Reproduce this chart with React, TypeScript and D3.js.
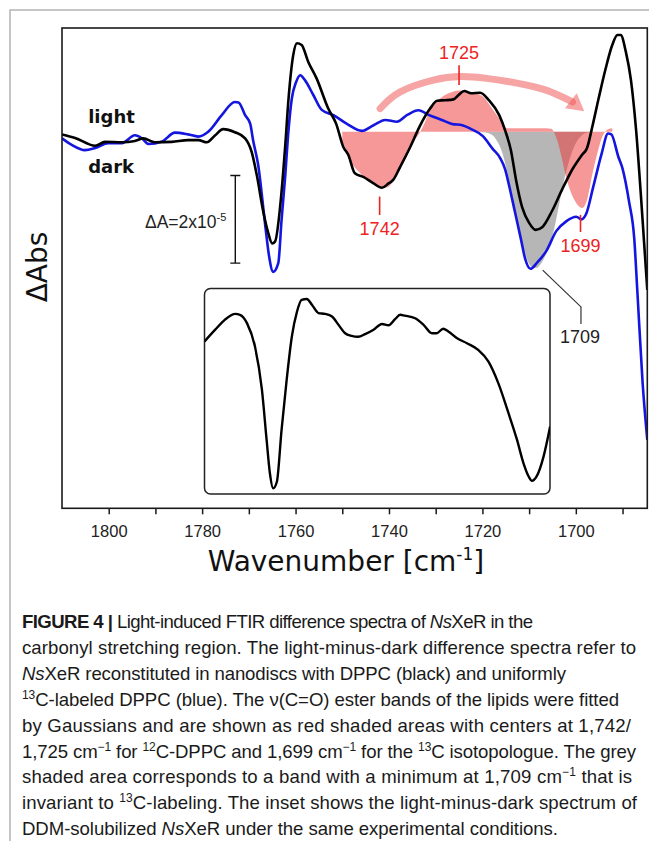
import React, { useEffect, useRef } from 'react'
import * as d3 from 'd3'

// wavenumber [cm-1], dA in units of 1e-5
const dpplBlack: [number, number][] = [
  [1810.0, -0.06], [1807.2, -0.14], [1802.9, -0.32], [1800.8, -0.23], [1797.2, -0.24], [1794.4, -0.21],
  [1792.6, -0.15], [1790.1, -0.24], [1786.5, -0.23], [1783.0, -0.19], [1780.8, -0.19], [1779.0, -0.24],
  [1777.2, -0.08], [1775.5, 0.06], [1773.0, -0.01], [1770.8, -0.15], [1769.4, -0.46], [1768.3, -0.99],
  [1766.9, -1.83], [1765.9, -2.29], [1765.0, -2.55], [1764.4, -2.51], [1763.0, -1.37], [1762.2, -0.30],
  [1761.5, 0.76], [1760.5, 1.75], [1759.7, 2.02], [1758.7, 1.98], [1757.3, 1.60], [1755.5, 1.22],
  [1753.0, 0.53], [1751.3, 0.18], [1749.8, -0.34], [1748.7, -0.53], [1747.3, -0.95], [1745.5, -1.03],
  [1743.3, -1.18], [1741.5, -1.28], [1740.1, -1.18], [1739.1, -1.10], [1737.6, -0.80], [1735.5, -0.36],
  [1733.4, 0.13], [1731.2, 0.53], [1729.7, 0.71], [1728.0, 0.72], [1726.2, 0.74], [1725.1, 0.84],
  [1723.9, 0.93], [1722.4, 0.88], [1720.5, 0.89], [1718.6, 0.72], [1716.4, 0.38], [1715.1, 0.02],
  [1713.9, -0.42], [1712.8, -1.10], [1711.5, -1.72], [1710.0, -2.08], [1708.6, -2.24], [1707.2, -2.18],
  [1705.1, -1.81], [1702.9, -1.31], [1700.7, -0.85], [1698.7, -0.53], [1697.6, -0.37], [1696.4, 0.15],
  [1695.1, 0.77], [1693.6, 1.45], [1692.2, 1.98], [1691.1, 2.21], [1690.4, 2.21], [1689.3, 1.83],
  [1688.2, 1.18], [1687.1, 0.04], [1686.0, -1.56], [1684.7, -3.61]
]

const dpplBlue: [number, number][] = [
  [1810.0, -0.15], [1807.9, -0.30], [1805.1, -0.42], [1802.9, -0.37], [1800.1, -0.26], [1797.2, -0.26],
  [1794.4, -0.08], [1792.9, -0.15], [1791.5, -0.28], [1788.7, -0.23], [1785.8, -0.02], [1783.0, -0.06],
  [1780.8, -0.11], [1778.7, 0.0], [1775.8, 0.38], [1773.0, 0.68], [1772.2, 0.67], [1770.8, 0.38],
  [1769.7, 0.18], [1769.1, -0.19], [1768.0, -0.76], [1766.5, -2.13], [1765.7, -2.82], [1764.8, -3.20],
  [1763.7, -3.00], [1763.0, -2.02], [1762.2, -0.99], [1761.6, -0.08], [1760.8, 0.76], [1759.9, 1.13],
  [1759.0, 1.29], [1758.0, 1.18], [1756.2, 0.84], [1754.4, 0.50], [1751.9, 0.38], [1749.0, 0.18],
  [1745.8, 0.02], [1743.3, 0.15], [1740.8, 0.27], [1738.3, 0.23], [1736.0, 0.39], [1733.7, 0.49],
  [1731.4, 0.38], [1728.7, 0.27], [1726.5, 0.18], [1724.3, 0.15], [1722.4, 0.06], [1719.9, -0.10],
  [1717.8, -0.39], [1716.2, -0.60], [1715.1, -0.87], [1714.3, -1.22], [1713.1, -1.80], [1711.7, -2.48],
  [1710.9, -2.88], [1709.7, -3.13], [1708.3, -2.99], [1706.3, -2.72], [1704.2, -2.27], [1702.0, -2.04],
  [1699.9, -1.94], [1698.8, -2.00], [1697.8, -1.88], [1696.3, -1.27], [1694.5, -0.51], [1693.1, -0.04],
  [1692.4, -0.06], [1690.9, -0.57], [1690.0, -0.84], [1688.6, -1.60], [1687.5, -2.43], [1686.8, -3.70],
  [1685.7, -5.74], [1684.7, -7.04]
]

// gaussian fits of the lipid ester bands (red) and the 1709 band (grey)
const lipidFit: [number, number][] = [
  [1750.0, -0.24], [1749.4, -0.35], [1748.3, -0.65], [1746.2, -0.94], [1744.0, -1.15], [1741.7, -1.29],
  [1740.2, -1.26], [1738.3, -0.99], [1736.6, -0.65], [1734.9, -0.26], [1733.3, 0.0], [1732.3, 0.22],
  [1731.2, 0.50], [1729.7, 0.70], [1728.0, 0.84], [1726.5, 0.91], [1724.8, 0.94], [1723.1, 0.92],
  [1721.4, 0.88], [1719.7, 0.79], [1718.0, 0.54], [1716.6, 0.33], [1715.6, 0.15], [1714.7, 0.08],
  [1707.6, 0.08], [1705.3, 0.07], [1704.0, -0.19], [1702.9, -0.65], [1702.1, -1.03], [1701.0, -1.40],
  [1699.9, -1.63], [1698.6, -1.74], [1697.6, -1.56], [1696.5, -0.99], [1695.4, -0.49], [1694.2, -0.08],
  [1693.1, 0.06], [1692.2, 0.08]
]

const band1709: [number, number][] = [
  [1720.9, 0.0], [1718.8, -0.03], [1717.1, -0.17], [1715.6, -0.53], [1714.1, -1.22], [1712.6, -2.02],
  [1711.1, -2.70], [1709.6, -3.07], [1708.5, -3.11], [1707.2, -2.97], [1705.9, -2.66], [1704.6, -2.20],
  [1703.6, -1.67], [1702.5, -1.10], [1701.4, -0.65], [1700.2, -0.30], [1698.9, -0.10], [1697.4, -0.01],
  [1696.1, 0.0]
]

// inset: DDM-solubilized NsXeR (own y units)
const insetDDM: [number, number][] = [
  [1779.5, -0.13], [1777.2, 0.14], [1775.1, 0.37], [1772.9, 0.50], [1771.9, 0.48], [1770.4, 0.29],
  [1768.7, -0.24], [1767.2, -1.23], [1766.2, -2.37], [1765.5, -3.13], [1764.8, -3.48], [1764.0, -3.33],
  [1763.0, -2.15], [1761.9, -1.00], [1760.8, -0.02], [1759.7, 0.55], [1758.7, 0.82], [1757.6, 0.84],
  [1756.5, 0.71], [1755.1, 0.52], [1753.7, 0.50], [1752.2, 0.44], [1750.8, 0.25], [1749.4, 0.06],
  [1748.0, 0.0], [1746.6, -0.02], [1745.1, 0.04], [1743.3, 0.14], [1741.5, 0.27], [1740.1, 0.24],
  [1738.7, 0.38], [1737.6, 0.48], [1736.6, 0.46], [1734.4, 0.40], [1732.6, 0.25], [1730.8, 0.06],
  [1729.8, 0.06], [1728.4, 0.16], [1727.3, 0.10], [1725.5, -0.05], [1723.3, -0.17], [1720.9, -0.32],
  [1718.7, -0.59], [1716.6, -1.08], [1714.4, -1.77], [1712.6, -2.37], [1711.2, -2.91], [1710.1, -3.21],
  [1709.4, -3.31], [1708.4, -3.21], [1706.9, -2.75], [1705.5, -2.07]
]

const arrowPath: [number, number][] = [
  [1741.9, 0.53], [1737.6, 0.91], [1730.5, 1.18], [1724.8, 1.26], [1719.1, 1.22], [1712.6, 1.11],
  [1706.4, 0.95], [1701.9, 0.78]
]
const arrowTip: [number, number] = [1698.2, 0.47]

const peakLabels = ['1742', '1725', '1699']
const peakWn = [1742, 1725, 1699]
const peakTick: [number, number][] = [[-1.48, -1.90], [1.52, 1.07], [-1.90, -2.29]]

const label1709 = '1709'
const leader1709: [number, number][] = [[1707.1, -3.16], [1698.9, -4.0], [1698.9, -4.39]]

const seriesLabels = ['light', 'dark']
const seriesLabelPos: [number, number][] = [[1804.4, 0.21], [1804.4, -0.95]]

const scaleBar: [number, number, number] = [1772.9, -1, -3]

const xTicks = d3.range(1800, 1689, -10)

const caption: [string, string][][] = [
  [['FIGURE 4 | ', 'b'], ['Light-induced FTIR difference spectra of ', ''], ['Ns', 'i'], ['XeR in the', '']],
  [['carbonyl stretching region. The light-minus-dark difference spectra refer to', '']],
  [['Ns', 'i'], ['XeR reconstituted in nanodiscs with DPPC (black) and uniformly', '']],
  [['13', 's'], ['C-labeled DPPC (blue). The ν(C=O) ester bands of the lipids were fitted', '']],
  [['by Gaussians and are shown as red shaded areas with centers at 1,742/', '']],
  [['1,725 cm', ''], ['−1', 's'], [' for ', ''], ['12', 's'], ['C-DPPC and 1,699 cm', ''], ['−1', 's'], [' for the ', ''], ['13', 's'], ['C isotopologue. The grey', '']],
  [['shaded area corresponds to a band with a minimum at 1,709 cm', ''], ['−1', 's'], [' that is', '']],
  [['invariant to ', ''], ['13', 's'], ['C-labeling. The inset shows the light-minus-dark spectrum of', '']],
  [['DDM-solubilized ', ''], ['Ns', 'i'], ['XeR under the same experimental conditions.', '']]
]
// right end of each caption line
const captionEnds = [533, 636, 566, 619, 631, 636, 632, 637, 558]

const W = 649
const H = 841
const frame = { left: 62, top: 28, right: 647.3, bottom: 508.3 }
const insetBox = { left: 204.5, top: 288.5, right: 550, bottom: 494 }
const sans = 'Liberation Sans, Arial, sans-serif'
const dejavu = 'DejaVu Sans, Verdana, sans-serif'

const App = () => {
  const ref = useRef<SVGSVGElement>(null)

  useEffect(() => {
    const svg = d3.select(ref.current)
    svg.selectAll('*').remove()

    const x = d3.scaleLinear().domain([1810.0, 1684.7]).range([frame.left, frame.right])
    const y = d3.scaleLinear().domain([-8.6, 2.37]).range([frame.bottom, frame.top])
    const yIn = d3.scaleLinear().domain([-3.61, 1.08]).range([insetBox.bottom, insetBox.top])

    // outer grey border
    svg.append('path')
      .attr('d', `M10,${H} V10 H${W}`)
      .attr('fill', 'none')
      .attr('stroke', '#b4b4b4')
      .attr('stroke-width', 1.5)

    const defs = svg.append('defs')
    defs.append('clipPath').attr('id', 'plotClip')
      .append('rect')
      .attr('x', frame.left).attr('y', frame.top)
      .attr('width', frame.right - frame.left).attr('height', frame.bottom - frame.top)
    defs.append('clipPath').attr('id', 'insetClip')
      .append('rect')
      .attr('x', insetBox.left).attr('y', insetBox.top)
      .attr('width', insetBox.right - insetBox.left).attr('height', insetBox.bottom - insetBox.top)

    const plot = svg.append('g').attr('clip-path', 'url(#plotClip)')

    const area = d3.area<[number, number]>()
      .x(d => x(d[0]))
      .y0(y(0))
      .y1(d => y(d[1]))
      .curve(d3.curveMonotoneX)

    plot.append('path').attr('d', area(band1709)).attr('fill', '#b6b6b6')
    plot.append('path').attr('d', area(lipidFit)).attr('fill', 'rgba(240,50,50,0.5)')

    // arrow 1742/1725 -> 1699
    const tipX = x(arrowTip[0])
    const tipY = y(arrowTip[1])
    const last = arrowPath[arrowPath.length - 1]
    const dx = tipX - x(last[0])
    const dy = tipY - y(last[1])
    const len = Math.sqrt(dx * dx + dy * dy)
    const ux = dx / len
    const uy = dy / len
    const headLen = 17
    const headHalf = 9.5
    const bx = tipX - ux * headLen
    const by = tipY - uy * headLen
    const arrowPts: [number, number][] = arrowPath.map(d => [x(d[0]), y(d[1])])
    arrowPts[arrowPts.length - 1] = [bx + ux * 2, by + uy * 2]
    plot.append('path')
      .attr('d', d3.line().curve(d3.curveNatural)(arrowPts))
      .attr('fill', 'none')
      .attr('stroke', 'rgba(240,90,90,0.55)')
      .attr('stroke-width', 7)
      .attr('stroke-linecap', 'round')
    plot.append('path')
      .attr('d', `M${tipX},${tipY} L${bx - uy * headHalf},${by + ux * headHalf} L${bx + uy * headHalf},${by - ux * headHalf} Z`)
      .attr('fill', 'rgba(240,90,90,0.55)')

    const line = d3.line<[number, number]>()
      .x(d => x(d[0]))
      .y(d => y(d[1]))
      .curve(d3.curveMonotoneX)

    plot.append('path').attr('d', line(dpplBlue))
      .attr('fill', 'none').attr('stroke', '#1515e0').attr('stroke-width', 2.6)
      .attr('stroke-linejoin', 'round')
    plot.append('path').attr('d', line(dpplBlack))
      .attr('fill', 'none').attr('stroke', '#000').attr('stroke-width', 2.6)
      .attr('stroke-linejoin', 'round')

    // inset
    svg.append('rect')
      .attr('x', insetBox.left).attr('y', insetBox.top)
      .attr('width', insetBox.right - insetBox.left).attr('height', insetBox.bottom - insetBox.top)
      .attr('rx', 6)
      .attr('fill', 'none')
      .attr('stroke', '#222')
      .attr('stroke-width', 1.5)
    const insetLine = d3.line<[number, number]>()
      .x(d => x(d[0]))
      .y(d => yIn(d[1]))
      .curve(d3.curveMonotoneX)
    svg.append('g').attr('clip-path', 'url(#insetClip)')
      .append('path').attr('d', insetLine(insetDDM))
      .attr('fill', 'none').attr('stroke', '#000').attr('stroke-width', 2.4)
      .attr('stroke-linejoin', 'round')

    // peak labels
    peakLabels.forEach((t, i) => {
      const px = x(peakWn[i])
      const [a, b] = peakTick[i]
      svg.append('line')
        .attr('x1', px).attr('x2', px)
        .attr('y1', y(a)).attr('y2', y(b))
        .attr('stroke', '#ee2222').attr('stroke-width', 1.6)
      const above = a > 0
      svg.append('text')
        .attr('x', px)
        .attr('y', above ? y(a) - 6.5 : y(b) + 20)
        .attr('text-anchor', 'middle')
        .attr('font-family', sans)
        .attr('font-size', 18)
        .attr('fill', '#ee2222')
        .text(t)
    })

    // 1709 leader
    svg.append('path')
      .attr('d', d3.line()(leader1709.map(d => [x(d[0]), y(d[1])])))
      .attr('fill', 'none').attr('stroke', '#333').attr('stroke-width', 1.2)
    svg.append('text')
      .attr('x', x(leader1709[2][0]) - 1)
      .attr('y', y(leader1709[2][1]) + 19)
      .attr('text-anchor', 'middle')
      .attr('font-family', sans)
      .attr('font-size', 18)
      .attr('fill', '#222')
      .text(label1709)

    // light / dark
    seriesLabels.forEach((t, i) => {
      svg.append('text')
        .attr('x', x(seriesLabelPos[i][0]))
        .attr('y', y(seriesLabelPos[i][1]))
        .attr('font-family', dejavu)
        .attr('font-weight', 'bold')
        .attr('font-size', 18)
        .attr('fill', '#111')
        .text(t)
    })

    // scale bar
    const sbx = x(scaleBar[0])
    svg.append('path')
      .attr('d', `M${sbx},${y(scaleBar[1])} V${y(scaleBar[2])} M${sbx - 5},${y(scaleBar[1])} H${sbx + 5} M${sbx - 5},${y(scaleBar[2])} H${sbx + 5}`)
      .attr('fill', 'none').attr('stroke', '#111').attr('stroke-width', 1.4)
    const sbt = svg.append('text')
      .attr('x', sbx - 9)
      .attr('y', y((scaleBar[1] + scaleBar[2]) / 2) + 9)
      .attr('text-anchor', 'end')
      .attr('font-family', sans)
      .attr('font-size', 17.5)
      .attr('fill', '#222')
    sbt.append('tspan').text('ΔA=2x10')
    sbt.append('tspan').attr('font-size', 11).attr('dy', -7).text('-5')

    // frame
    svg.append('rect')
      .attr('x', frame.left).attr('y', frame.top)
      .attr('width', frame.right - frame.left).attr('height', frame.bottom - frame.top)
      .attr('fill', 'none').attr('stroke', '#1a1a1a').attr('stroke-width', 1.6)

    // x axis
    const axis = svg.append('g')
      .attr('transform', `translate(0,${frame.bottom})`)
      .call(d3.axisBottom(x).tickValues(xTicks).tickSize(6).tickPadding(11)
        .tickFormat(d => (+d % 20 === 0 ? String(d) : '')))
    axis.select('.domain').remove()
    axis.selectAll('line').attr('stroke', '#1a1a1a').attr('stroke-width', 1.5)
    axis.selectAll('text')
      .attr('font-family', sans)
      .attr('font-size', 16.5)
      .attr('fill', '#222')

    const xt = svg.append('text')
      .attr('x', 346)
      .attr('y', 571)
      .attr('text-anchor', 'middle')
      .attr('font-family', dejavu)
      .attr('font-size', 28)
      .attr('fill', '#111')
    xt.append('tspan').text('Wavenumber [cm')
    xt.append('tspan').attr('font-size', 17).attr('dy', -11).text('-1')
    xt.append('tspan').attr('dy', 11).text(']')

    svg.append('text')
      .attr('transform', 'translate(47,267) rotate(-90)')
      .attr('text-anchor', 'middle')
      .attr('font-family', dejavu)
      .attr('font-size', 28)
      .attr('fill', '#111')
      .text('ΔAbs')

    // caption
    caption.forEach((segs, li) => {
      const t = svg.append('text')
        .attr('x', 22)
        .attr('y', 628 + li * 25.9)
        .attr('font-family', sans)
        .attr('font-size', 18.6)
        .attr('fill', '#1a1a1a')
        .attr('textLength', captionEnds[li] - 22)
        .attr('lengthAdjust', 'spacing')
      let shifted = false
      segs.forEach(([s, st]) => {
        const ts = t.append('tspan').text(s)
        if (st === 'b') ts.attr('font-weight', 'bold')
        if (st === 'i') ts.attr('font-style', 'italic')
        if (st === 's') {
          ts.attr('font-size', 12).attr('dy', shifted ? 0 : -7)
          shifted = true
        } else if (shifted) {
          ts.attr('dy', 7)
          shifted = false
        }
      })
    })
  }, [])

  return (
    <svg
      ref={ref}
      width={W}
      height={H}
      style={{ position: 'absolute', left: 0, top: 0, background: '#fff' }}
    />
  )
}

export default App
